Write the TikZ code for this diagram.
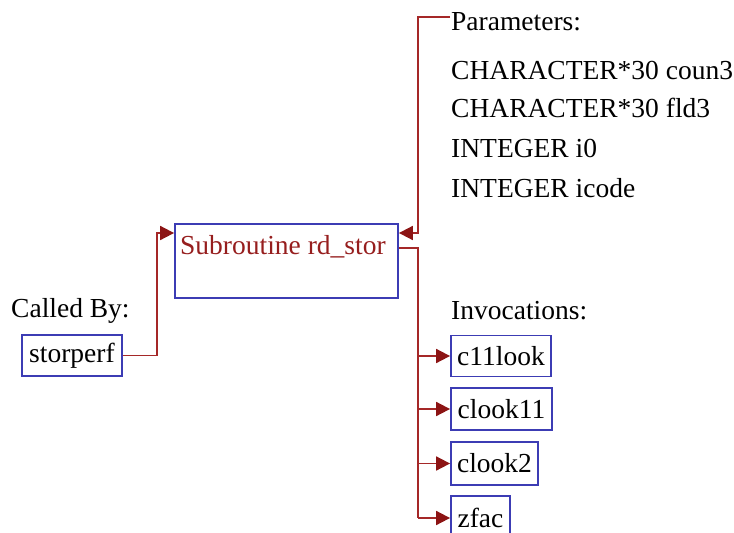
\documentclass[tikz,border=0pt]{standalone}
\usepackage{fontspec}
\setmainfont{Liberation Serif}
\usetikzlibrary{arrows.meta}
\definecolor{lnred}{RGB}{165,40,40}
\definecolor{tipred}{RGB}{140,20,20}
\definecolor{boxblue}{RGB}{60,60,180}
\definecolor{txtred}{RGB}{150,30,30}
\begin{document}
\begin{tikzpicture}[x=1pt,y=-1pt,
  every node/.style={font=\fontsize{27.5}{30}\selectfont, inner sep=0pt},
  fbox/.style={draw=boxblue, line width=1.8pt, rectangle, align=center},
  conn/.style={draw=lnred, line width=1.8pt},
  arr/.style={conn, -{Triangle[length=14pt,width=14pt,color=tipred]}},
  lbl/.style={anchor=west}]
\useasboundingbox (0,0) rectangle (734,533);
\clip (0,0) rectangle (734,533);
% main box
\node[fbox, minimum width=223pt, minimum height=74pt] (main) at (286.5,261) {};
\node[lbl, text=txtred] (maintxt) at (180,247) {Subroutine rd\_stor};
% parameters
\node[lbl] (p0) at (451,22) {Parameters:};
\node[lbl] (p1) at (451,70) {CHARACTER*30 coun3};
\node[lbl] (p2) at (451,108) {CHARACTER*30 fld3};
\node[lbl] (p3) at (451,148) {INTEGER i0};
\node[lbl] (p4) at (451,188) {INTEGER icode};
\coordinate (ptop) at (450,17);
% called by
\node[lbl] (cb) at (11,311) {Called By:};
\node[fbox, minimum width=100pt, minimum height=41pt] (storperf) at (72,355.5) {storperf};
% invocations
\node[lbl] (inv) at (451,311) {Invocations:};
\node[fbox, minimum width=100pt, minimum height=41pt] (c1) at (501,356) {c11look};
\node[fbox, minimum width=101pt, minimum height=42pt] (c2) at (501.5,409) {clook11};
\node[fbox, minimum width=87pt, minimum height=43pt] (c3) at (494.5,463.5) {clook2};
\node[fbox, minimum width=59pt, minimum height=44pt] (c4) at (480.5,518) {zfac};
% junction points
\coordinate (jl) at (157,233);
\coordinate (jp) at (418,233);
\coordinate (ji) at (418,248);
\coordinate (jb) at (418,518);
% connectors
\draw[arr] (storperf.east) -| (jl) -- (main.west |- jl);
\draw[arr] (ptop) -| (jp) -- (main.east |- jp);
\draw[conn] (main.east |- ji) -- (ji) -- (jb);
\draw[arr] (ji |- c1.west) -- (c1.west);
\draw[arr] (ji |- c2.west) -- (c2.west);
\draw[arr] (ji |- c3.west) -- (c3.west);
\draw[arr] (jb) -- (c4.west);
\end{tikzpicture}
\end{document}
